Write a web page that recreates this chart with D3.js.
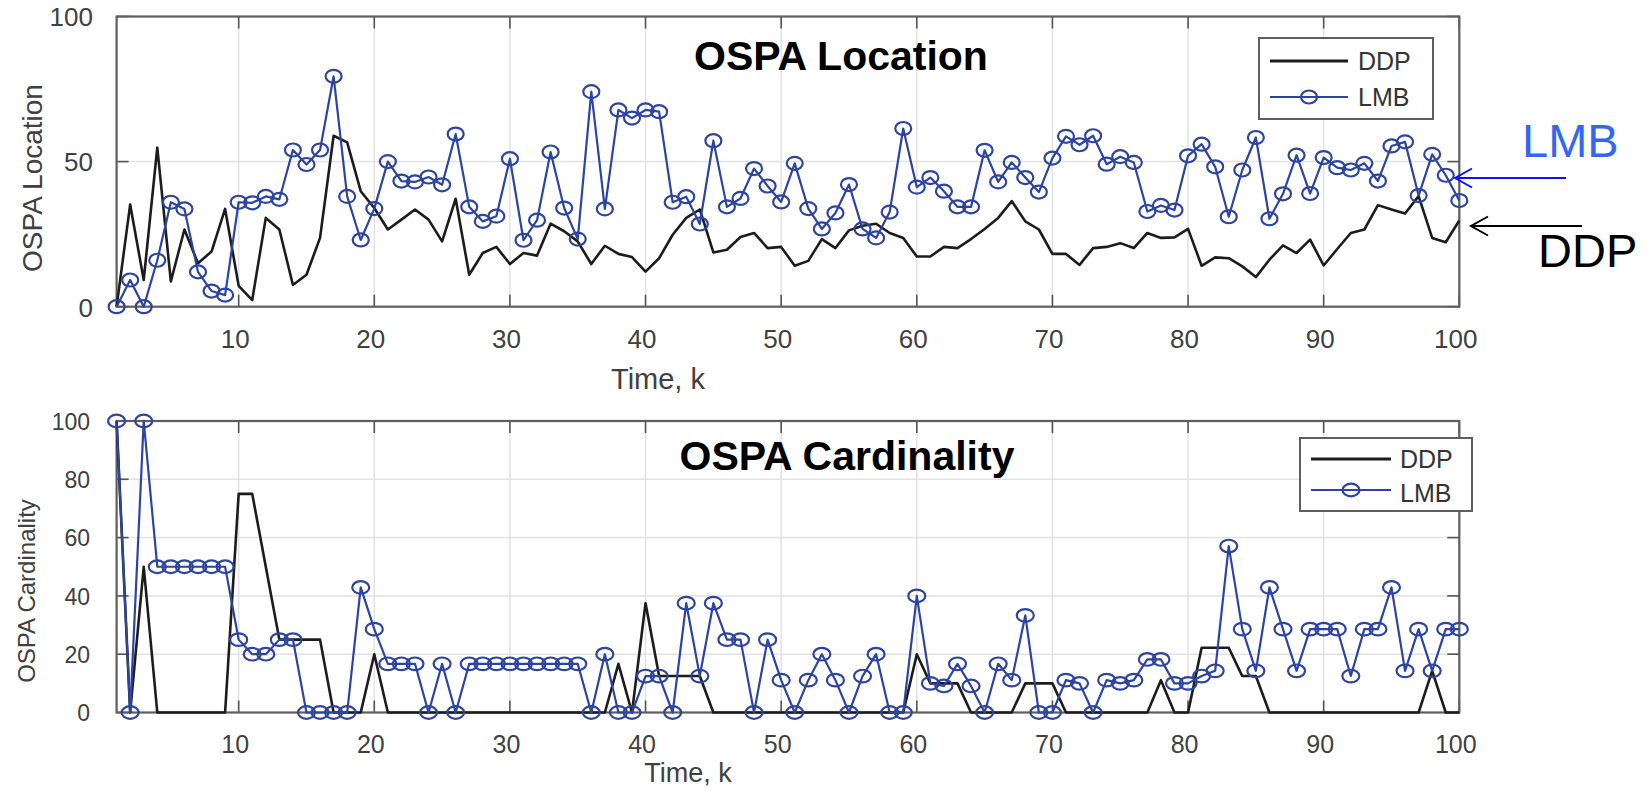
<!DOCTYPE html>
<html><head><meta charset="utf-8">
<script src="https://cdn.jsdelivr.net/npm/d3@7"></script>
<style>html,body{margin:0;padding:0;background:#fff;} svg{display:block;}</style>
</head><body><svg id="chart" width="1651" height="791"></svg>
<script>
// ---------------- data ----------------
const steps = d3.range(1, 101);
const seriesNames = ["DDP", "LMB"];
const panelTitles = ["OSPA Location", "OSPA Cardinality"];
const yAxisLabels = ["OSPA Location", "OSPA Cardinality"];
const xAxisLabel = "Time, k";
const xTickValues = [10, 20, 30, 40, 50, 60, 70, 80, 90, 100];
const yTicksLocation = [0, 50, 100];
const yTicksCardinality = [0, 20, 40, 60, 80, 100];

const ddpLocation = [
  0, 35.2, 9.2, 54.8, 8.7, 26.6, 15, 19, 33.7, 7.2,
  2.3, 30.6, 26.6, 7.5, 11, 23.7, 58.9, 56.6, 39.8, 34,
  26.6, 30, 33.5, 30, 22.5, 37.2, 11, 18.5, 20.6, 14.7,
  18.5, 17.6, 28.6, 26, 22.5, 14.7, 21, 18.2, 17.1, 12.1,
  16.7, 24.8, 30.6, 33.5, 18.7, 19.6, 24, 25.4, 20.2, 20.6,
  14.1, 15.8, 23.3, 20.2, 26.3, 27.9, 28.6, 25.4, 23.7, 17.3,
  17.3, 20.6, 20.2, 23.3, 26.8, 30.6, 36.4, 29.4, 26.6, 18.2,
  18.2, 14.4, 20.2, 20.6, 21.9, 20.2, 25.4, 23.7, 23.9, 26.8,
  14.1, 17, 16.7, 13.9, 10.2, 16.2, 21.1, 18.5, 23.1, 14.2,
  19.9, 25.4, 26.6, 35, 33.5, 32.1, 38.1, 23.7, 22.2, 29.7
];
const lmbLocation = [
  0, 9.2, 0, 16, 36, 33.7, 12, 5.4, 4, 36,
  35.8, 38, 37, 54, 49, 54, 79.4, 38, 23, 33.8,
  50, 43.3, 43, 44.7, 42, 59.5, 34.4, 29.4, 31.2, 51,
  22.9, 29.8, 53.3, 34, 23.3, 74.1, 33.7, 67.8, 65, 67.8,
  67.2, 36, 37.9, 28.5, 57.2, 34.4, 37.3, 47.6, 41.6, 36.1,
  49.4, 33.8, 26.8, 32.3, 42.1, 26.8, 23.7, 32.6, 61.4, 41.2,
  44.5, 39.8, 34.4, 34.4, 53.9, 43, 49.7, 44.5, 39.5, 51.2,
  58.7, 55.8, 58.9, 49.1, 51.7, 49.7, 32.8, 34.9, 33.3, 52,
  56, 48.2, 31, 47.1, 58.3, 30.3, 38.9, 52.2, 39, 51.4,
  47.9, 47.1, 49.4, 43.3, 55.4, 56.8, 38.3, 52.5, 45.3, 36.6
];
const ddpCardinality = [
  100, 0, 50, 0, 0, 0, 0, 0, 0, 75,
  75, 50, 25, 25, 25, 25, 0, 0, 0, 20,
  0, 0, 0, 0, 0, 0, 0, 0, 0, 0,
  0, 0, 0, 0, 0, 0, 0, 16.7, 0, 37.5,
  12.5, 12.5, 12.5, 12.5, 0, 0, 0, 0, 0, 0,
  0, 0, 0, 0, 0, 0, 0, 0, 0, 20,
  10, 10, 10, 0, 0, 0, 0, 10, 10, 10,
  0, 0, 0, 0, 0, 0, 0, 11.1, 0, 0,
  22.2, 22.2, 22.2, 12.5, 12.5, 0, 0, 0, 0, 0,
  0, 0, 0, 0, 0, 0, 0, 14.3, 0, 0
];
const lmbCardinality = [
  100, 0, 100, 50, 50, 50, 50, 50, 50, 25,
  20, 20, 25, 25, 0, 0, 0, 0, 42.9, 28.6,
  16.7, 16.7, 16.7, 0, 16.7, 0, 16.7, 16.7, 16.7, 16.7,
  16.7, 16.7, 16.7, 16.7, 16.7, 0, 20, 0, 0, 12.5,
  12.5, 0, 37.5, 12.5, 37.5, 25, 25, 0, 25, 11.1,
  0, 11.1, 20, 11.1, 0, 12.5, 20, 0, 0, 40,
  10, 9.1, 16.7, 9.1, 0, 16.7, 11.1, 33.3, 0, 0,
  11.1, 10, 0, 11.1, 10, 11.1, 18.2, 18.2, 10, 10,
  12.5, 14.3, 57.1, 28.6, 14.3, 42.9, 28.6, 14.3, 28.6, 28.6,
  28.6, 12.5, 28.6, 28.6, 42.9, 14.3, 28.6, 14.3, 28.6, 28.6
];

// ---------------- drawing ----------------
const svg = d3.select("#chart");
svg.append("rect").attr("width", 1651).attr("height", 791).attr("fill", "#fff");

const FONT = "'Liberation Sans', Arial, Helvetica, sans-serif";
const BLUE = "#2d44a0";
const BLACK = "#1c1c1c";
const TEXT = "#404040";

const x = d3.scaleLinear().domain([1, 100]).range([116.6, 1459.3]);

const panels = [
  {
    ddp: ddpLocation, lmb: lmbLocation, yTicks: yTicksLocation,
    yRange: [306.7, 16.5], title: panelTitles[0], ylabel: yAxisLabels[0],
    titleX: 841, titleY: 70, titleSize: 41,
    ylabelX: 42, ylabelY: 178, ylabelSize: 28,
    yTickX: 93, yTickSize: 26,
    xTickBase: 348, xTickSize: 26,
    xlabelX: 658, xlabelY: 389, xlabelSize: 29,
    rx: 8, ry: 6.5,
    legend: {x: 1259, y: 38, w: 174, h: 81, l1: 61, l2: 97, t1: 70, t2: 106, lx0: 1270, lx1: 1348, tx: 1358, size: 25}
  },
  {
    ddp: ddpCardinality, lmb: lmbCardinality, yTicks: yTicksCardinality,
    yRange: [712.5, 421], title: panelTitles[1], ylabel: yAxisLabels[1],
    titleX: 847, titleY: 470, titleSize: 41,
    ylabelX: 35, ylabelY: 591, ylabelSize: 24,
    yTickX: 90, yTickSize: 23,
    xTickBase: 753, xTickSize: 25,
    xlabelX: 688, xlabelY: 782, xlabelSize: 27,
    rx: 8.5, ry: 6.3,
    legend: {x: 1300, y: 438, w: 172, h: 73, l1: 459, l2: 490, t1: 468, t2: 502, lx0: 1311, lx1: 1391, tx: 1400, size: 25}
  }
];

panels.forEach(p => {
  const y = d3.scaleLinear().domain([0, 100]).range(p.yRange);
  const g = svg.append("g");
  const [x0, x1] = x.range();
  const [yb, yt] = y.range();

  // grid
  g.append("g").selectAll("line").data(xTickValues.filter(v => v < 100)).join("line")
    .attr("x1", d => x(d)).attr("x2", d => x(d)).attr("y1", yt).attr("y2", yb)
    .attr("stroke", "#e2e2e2").attr("stroke-width", 1.5);
  g.append("g").selectAll("line").data(p.yTicks.filter(v => v > 0 && v < 100)).join("line")
    .attr("x1", x0).attr("x2", x1).attr("y1", d => y(d)).attr("y2", d => y(d))
    .attr("stroke", "#e2e2e2").attr("stroke-width", 1.5);

  // inward ticks
  const tl = 12;
  const tg = g.append("g").attr("stroke", "#555").attr("stroke-width", 1.6);
  tg.selectAll(".xb").data(xTickValues).join("line").attr("class", "xb")
    .attr("x1", d => x(d)).attr("x2", d => x(d)).attr("y1", yb).attr("y2", yb - tl);
  tg.selectAll(".xt").data(xTickValues).join("line").attr("class", "xt")
    .attr("x1", d => x(d)).attr("x2", d => x(d)).attr("y1", yt).attr("y2", yt + tl);
  tg.selectAll(".yl").data(p.yTicks).join("line").attr("class", "yl")
    .attr("x1", x0).attr("x2", x0 + tl).attr("y1", d => y(d)).attr("y2", d => y(d));
  tg.selectAll(".yr").data(p.yTicks).join("line").attr("class", "yr")
    .attr("x1", x1).attr("x2", x1 - tl).attr("y1", d => y(d)).attr("y2", d => y(d));

  // box
  g.append("rect").attr("x", x0).attr("y", yt).attr("width", x1 - x0).attr("height", yb - yt)
    .attr("fill", "none").attr("stroke", "#5e5e5e").attr("stroke-width", 2.2);

  // axes labels via d3 axis
  const gx = g.append("g").attr("transform", `translate(0,${yb})`)
    .call(d3.axisBottom(x).tickValues(xTickValues).tickSize(0).tickFormat(d3.format("d")));
  gx.select(".domain").remove();
  gx.selectAll("text").attr("y", p.xTickBase - yb).attr("dy", 0).attr("dx", -4)
    .attr("font-size", p.xTickSize).attr("font-family", FONT).attr("fill", TEXT);

  const gy = g.append("g").attr("transform", `translate(${p.yTickX},0)`)
    .call(d3.axisLeft(y).tickValues(p.yTicks).tickSize(0).tickFormat(d3.format("d")));
  gy.select(".domain").remove();
  gy.selectAll("text").attr("x", 0).attr("dy", "0.36em")
    .attr("font-size", p.yTickSize).attr("font-family", FONT).attr("fill", TEXT);

  // axis titles
  g.append("text").attr("x", p.xlabelX).attr("y", p.xlabelY).attr("text-anchor", "middle")
    .attr("font-family", FONT).attr("font-size", p.xlabelSize).attr("fill", TEXT).text(xAxisLabel);
  g.append("text").attr("transform", `translate(${p.ylabelX},${p.ylabelY}) rotate(-90)`)
    .attr("text-anchor", "middle").attr("font-family", FONT).attr("font-size", p.ylabelSize)
    .attr("fill", TEXT).text(p.ylabel);

  // series
  const line = d3.line().x((d, i) => x(steps[i])).y(d => y(d));
  g.append("path").datum(p.ddp).attr("d", line).attr("fill", "none")
    .attr("stroke", BLACK).attr("stroke-width", 2.6).attr("stroke-linejoin", "round");
  g.append("path").datum(p.lmb).attr("d", line).attr("fill", "none")
    .attr("stroke", BLUE).attr("stroke-width", 2.2).attr("stroke-linejoin", "round");
  g.append("g").selectAll("ellipse").data(p.lmb).join("ellipse")
    .attr("cx", (d, i) => x(steps[i])).attr("cy", d => y(d))
    .attr("rx", p.rx).attr("ry", p.ry)
    .attr("fill", "none").attr("stroke", BLUE).attr("stroke-width", 2.2);

  // title
  g.append("text").attr("x", p.titleX).attr("y", p.titleY).attr("text-anchor", "middle")
    .attr("font-family", FONT).attr("font-weight", "bold").attr("font-size", p.titleSize)
    .attr("fill", "#000").text(p.title);

  // legend
  const L = p.legend;
  const lg = g.append("g");
  lg.append("rect").attr("x", L.x).attr("y", L.y).attr("width", L.w).attr("height", L.h)
    .attr("fill", "#fff").attr("stroke", "#5e5e5e").attr("stroke-width", 2);
  lg.append("line").attr("x1", L.lx0).attr("x2", L.lx1).attr("y1", L.l1).attr("y2", L.l1)
    .attr("stroke", BLACK).attr("stroke-width", 2.8);
  lg.append("line").attr("x1", L.lx0).attr("x2", L.lx1).attr("y1", L.l2).attr("y2", L.l2)
    .attr("stroke", BLUE).attr("stroke-width", 2.2);
  lg.append("ellipse").attr("cx", (L.lx0 + L.lx1) / 2).attr("cy", L.l2).attr("rx", p.rx).attr("ry", p.ry)
    .attr("fill", "none").attr("stroke", BLUE).attr("stroke-width", 2.2);
  lg.selectAll(".lt").data(seriesNames).join("text").attr("class", "lt")
    .attr("x", L.tx).attr("y", (d, i) => i === 0 ? L.t1 : L.t2)
    .attr("font-family", FONT).attr("font-size", L.size).attr("fill", "#333").text(d => d);
});

// ---------------- annotations ----------------
const ann = svg.append("g");
ann.append("text").attr("x", 1522).attr("y", 157).attr("font-family", FONT).attr("font-size", 47)
  .attr("fill", "#3366f5").text(seriesNames[1]);
ann.append("text").attr("x", 1538).attr("y", 267).attr("font-family", FONT).attr("font-size", 47)
  .attr("fill", "#000").text(seriesNames[0]);
ann.append("path").attr("d", "M1566,178 L1455,178 M1472,168.5 L1455,178 L1472,187.5")
  .attr("fill", "none").attr("stroke", "#1010ff").attr("stroke-width", 2);
ann.append("path").attr("d", "M1582,226 L1471,226 M1488,216.5 L1471,226 L1488,235.5")
  .attr("fill", "none").attr("stroke", "#000").attr("stroke-width", 2);
</script>
</body></html>
